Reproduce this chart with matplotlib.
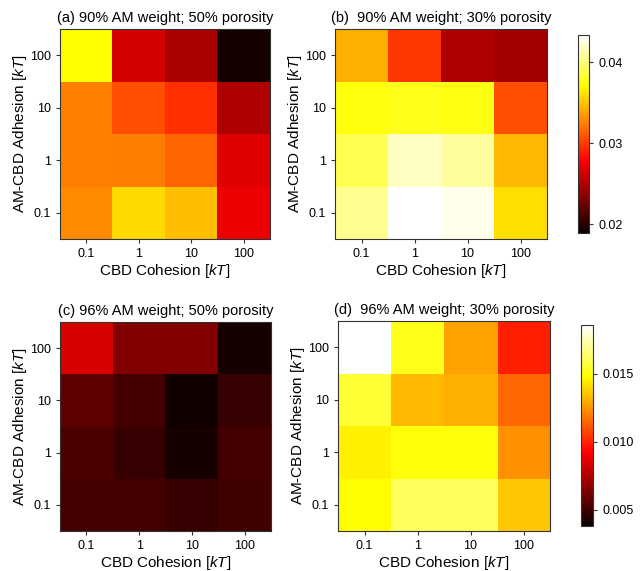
import numpy as np
import matplotlib
matplotlib.use('Agg')
from matplotlib import pyplot as plt

plt.rcParams['font.family'] = ['Liberation Sans', 'DejaVu Sans']
plt.rcParams['mathtext.fontset'] = 'custom'
plt.rcParams['mathtext.rm'] = 'Liberation Sans'
plt.rcParams['mathtext.it'] = 'Liberation Sans:italic'

cohesion_labels = ['0.1', '1', '10', '100']
adhesion_labels = ['0.1', '1', '10', '100']

# rows: adhesion 0.1, 1, 10, 100 ; cols: cohesion 0.1, 1, 10, 100
am90_por50 = [[0.0329, 0.0358, 0.0348, 0.0272],
              [0.0325, 0.0324, 0.0316, 0.0267],
              [0.0325, 0.0307, 0.0296, 0.0250],
              [0.0372, 0.0263, 0.0248, 0.0193]]
am90_por30 = [[0.0407, 0.0434, 0.0429, 0.0360],
              [0.0391, 0.0419, 0.0411, 0.0346],
              [0.0375, 0.0378, 0.0376, 0.0307],
              [0.0343, 0.0299, 0.0250, 0.0245]]
am96_por50 = [[0.0051, 0.0051, 0.0048, 0.0050],
              [0.0053, 0.0048, 0.0041, 0.0051],
              [0.0057, 0.0051, 0.0040, 0.0048],
              [0.0084, 0.0065, 0.0065, 0.0041]]
am96_por30 = [[0.0148, 0.0162, 0.0162, 0.0136],
              [0.0145, 0.0150, 0.0150, 0.0124],
              [0.0156, 0.0133, 0.0131, 0.0115],
              [0.0186, 0.0152, 0.0128, 0.0099]]

titles = ['(a) 90% AM weight; 50% porosity', '(b)  90% AM weight; 30% porosity',
          '(c) 96% AM weight; 50% porosity', '(d)  96% AM weight; 30% porosity']

W, H = 644, 571
fig = plt.figure(figsize=(W / 100, H / 100), dpi=100)

def px_axes(left, top, right, bottom):
    return fig.add_axes([left / W, 1 - bottom / H, (right - left) / W, (bottom - top) / H])

ax_pos = [(60, 29, 270, 239), (335, 29, 547, 239), (60, 322, 271, 531), (338, 321, 550, 531)]
cb_pos = [(578, 35, 589, 233), (581, 325, 593, 526)]
datasets = [am90_por50, am90_por30, am96_por50, am96_por30]
limits = [(0.0189, 0.0434), (0.0038, 0.0186)]
cb_ticks = [([0.02, 0.03, 0.04], '{:.2f}'), ([0.005, 0.010, 0.015], '{:.3f}')]

for i, data in enumerate(datasets):
    ax = px_axes(*ax_pos[i])
    vmin, vmax = limits[i // 2]
    im = ax.imshow(np.array(data), cmap='hot', origin='lower', aspect='auto',
                   vmin=vmin, vmax=vmax)
    ax.set_xticks(range(4))
    ax.set_xticklabels(cohesion_labels)
    ax.set_yticks(range(4))
    ax.set_yticklabels(adhesion_labels)
    ax.tick_params(labelsize=9, length=3, color='#333333')
    ax.set_xlabel('CBD Cohesion [$kT$]', fontsize=11, labelpad=1.5)
    ax.set_ylabel('AM-CBD Adhesion [$kT$]', fontsize=11, labelpad=1)
    ax.set_title(titles[i], fontsize=10.5, pad=5)
    for s in ax.spines.values():
        s.set_color('#333333')
    if i % 2 == 1:
        cax = px_axes(*cb_pos[i // 2])
        cb = fig.colorbar(im, cax=cax)
        ticks, fmt = cb_ticks[i // 2]
        cb.set_ticks(ticks)
        cb.set_ticklabels([fmt.format(t) for t in ticks])
        cb.ax.tick_params(labelsize=9, length=3, color='#333333')
        cb.outline.set_edgecolor('#333333')

fig.savefig('out.png', dpi=100)
